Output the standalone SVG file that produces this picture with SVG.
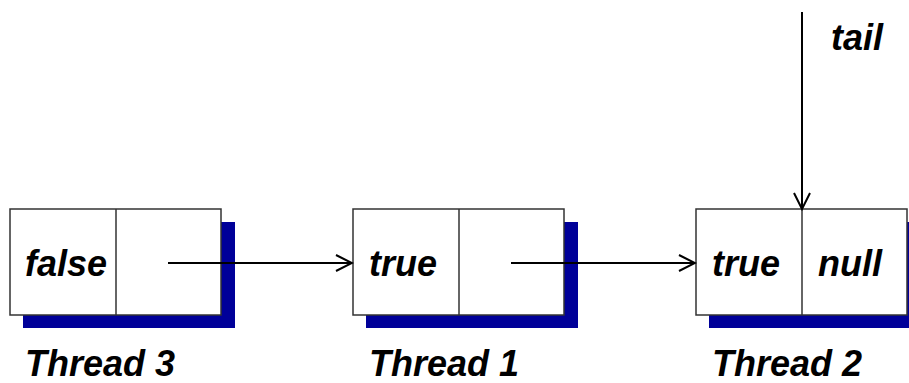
<svg xmlns="http://www.w3.org/2000/svg" width="909" height="383" viewBox="0 0 909 383">
<defs>
<style>
.shadow{fill:#000099;}
.box{fill:#fff;stroke:#333;stroke-width:1.5;}
.div{stroke:#333;stroke-width:1.5;}
.t{font-family:"Liberation Sans",Arial,sans-serif;font-weight:bold;font-style:italic;font-size:36px;fill:#000;}
.lbl{font-family:"Liberation Sans",Arial,sans-serif;font-weight:bold;font-style:italic;font-size:36px;fill:#000;}
.conn{stroke:#000;stroke-width:2;fill:none;}
</style>
<marker id="ah" markerWidth="20" markerHeight="20" refX="18" refY="10" orient="auto" markerUnits="userSpaceOnUse">
<path d="M2,2 L18,10 L2,18" fill="none" stroke="#000" stroke-width="2"/>
</marker>
</defs>
<rect width="909" height="383" fill="#fff"/>
<g id="node-thread3">
<rect class="shadow" x="23" y="222" width="212" height="106"/>
<rect class="box" x="10" y="209" width="211" height="106"/>
<line class="div" x1="116" y1="209" x2="116" y2="315"/>
<text class="t" x="25" y="276">false</text>
<text class="lbl" x="25" y="376">Thread 3</text>
</g>
<g id="node-thread1">
<rect class="shadow" x="366" y="222" width="212" height="106"/>
<rect class="box" x="353" y="209" width="211" height="106"/>
<line class="div" x1="459" y1="209" x2="459" y2="315"/>
<text class="t" x="369" y="276">true</text>
<text class="lbl" x="369" y="376">Thread 1</text>
</g>
<g id="node-thread2">
<rect class="shadow" x="709" y="222" width="212" height="106"/>
<rect class="box" x="696" y="209" width="211" height="106"/>
<line class="div" x1="802" y1="209" x2="802" y2="315"/>
<text class="t" x="712" y="276">true</text>
<text class="t" x="818" y="276">null</text>
<text class="lbl" x="712" y="376">Thread 2</text>
</g>
<g id="tail">
<text class="t" x="831" y="50">tail</text>
</g>
<g id="connectors">
<line class="conn" x1="168" y1="263" x2="352" y2="263" marker-end="url(#ah)"/>
<line class="conn" x1="511" y1="263" x2="695" y2="263" marker-end="url(#ah)"/>
<line class="conn" x1="802" y1="12" x2="802" y2="209" marker-end="url(#ah)"/>
</g>
</svg>
